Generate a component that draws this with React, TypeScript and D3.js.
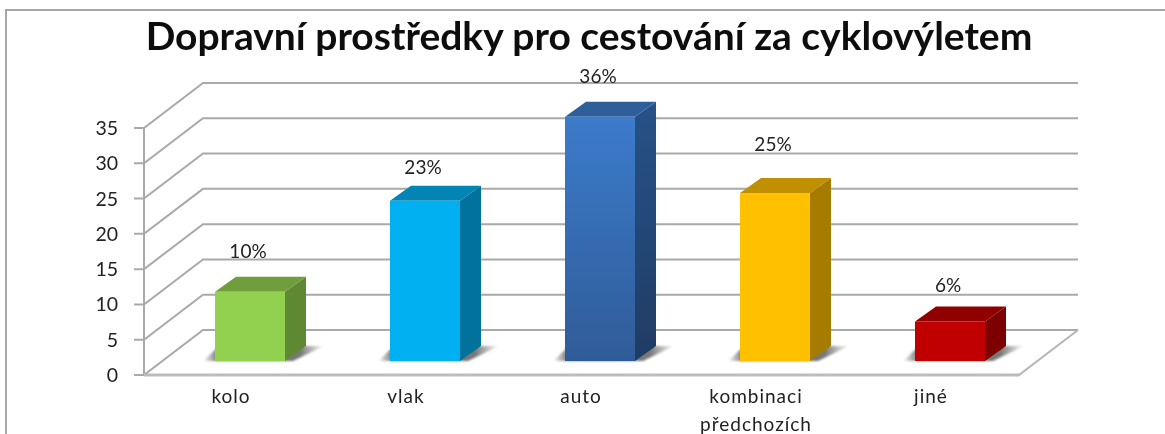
import React from "react";
import * as d3 from "d3";

const categories = ["kolo", "vlak", "auto", "kombinaci\npředchozích", "jiné"];
const values = [9.8, 22.7, 34.6, 23.8, 5.6];
const valueLabels = ["10%", "23%", "36%", "25%", "6%"];
const labelOffsets = [40, 33, 40, 48, 35];
const frontColors = ["#92d050", "#00b0f0", "#3a78c4", "#ffc000", "#c00000"];
const topColors = ["#6f9e3c", "#0085b5", "#2e5e9a", "#c09000", "#900000"];
const sideColors = ["#5f8832", "#00729c", "#26497a", "#a67c00", "#7c0000"];
const yTicks = [0, 5, 10, 15, 20, 25, 30, 35];
const title = "Dopravní prostředky pro cestování za cyklovýletem";

const W = 1165, H = 434;
const y = d3.scaleLinear().domain([0, 35]).range([375, 128]);
const barY = d3.scaleLinear().domain([0, 35]).range([361, 114]);
const x = d3.scaleBand<number>().domain(d3.range(5)).range([162.5, 1037.5]).paddingInner(0.6).paddingOuter(0.3);
const dx = 59, dy = -45;
const bx = 21, by = -15;
const font = "Lato, sans-serif";
const line = d3.line();

export default function App() {
  const bw = x.bandwidth();
  return (
    <svg width={W} height={H} style={{ position: "fixed", left: 0, top: 0, background: "#fff" }}>
      <defs>
        <filter id="soft" x="-5%" y="-5%" width="110%" height="110%"><feGaussianBlur stdDeviation="0.55" /></filter>
        <filter id="shadow" x="-30%" y="-100%" width="160%" height="300%"><feGaussianBlur stdDeviation="1.2" /></filter>
        <linearGradient id="sh" x1="0" y1="0" x2="1" y2="0">
          <stop offset="0" stopColor="#777" stopOpacity={0} />
          <stop offset="0.12" stopColor="#777" />
          <stop offset="0.8" stopColor="#777" />
          <stop offset="1" stopColor="#777" stopOpacity={0} />
        </linearGradient>
        <linearGradient id="g2" x1="0" y1="0" x2="0" y2="1">
          <stop offset="0" stopColor="#3c7bcb" /><stop offset="1" stopColor="#2f5c98" />
        </linearGradient>
        <linearGradient id="g2s" x1="0" y1="0" x2="0" y2="1">
          <stop offset="0" stopColor="#285288" /><stop offset="1" stopColor="#1f3c64" />
        </linearGradient>
      </defs>
      <g filter="url(#soft)">
        <path d={line([[6, H], [6, 10], [W, 10]])!} stroke="#a8a8a8" strokeWidth={2} fill="none" />
        {yTicks.map((t) => (
          <path key={t} d={line([[134, y(t)], [144, y(t)], [144 + dx, y(t) + dy], [1078, y(t) + dy]])!} stroke="#a9a9a9" strokeWidth={2} fill="none" />
        ))}
        <path d={line([[144, y(0)], [144, y(35)]])!} stroke="#a9a9a9" strokeWidth={2} />
        <path d={line([[144, y(0)], [1019, y(0)], [1078, y(0) + dy]])!} stroke="#b5b5b5" strokeWidth={2} fill="none" />
        <path d={line([[144, y(0)], [1019, y(0)]])!} stroke="#bcbcbc" strokeWidth={3} fill="none" />

        {values.map((v, i) => {
          const x0 = x(i)!, x1 = x0 + bw, top = barY(v), base = barY(0);
          return (
            <g key={i}>
              <path d={line([[x0 - 12, base], [x1 + 8, base], [x1 + bx + 18, base - 15], [x0 + 4, base - 15]])! + "Z"} fill="url(#sh)" filter="url(#shadow)" />
              <path d={line([[x1, top], [x1 + bx, top + by], [x1 + bx, base + by], [x1, base]])! + "Z"} fill={i === 2 ? "url(#g2s)" : sideColors[i]} />
              <path d={line([[x0, top], [x0 + bx, top + by], [x1 + bx, top + by], [x1, top]])! + "Z"} fill={topColors[i]} />
              <rect x={x0} y={top} width={bw} height={base - top} fill={i === 2 ? "url(#g2)" : frontColors[i]} />
            </g>
          );
        })}

        <g fontFamily={font} fill="#222">
          {yTicks.map((t) => (
            <text key={t} x={118} y={y(t) + 7} textAnchor="end" fontSize={19.5}>{t}</text>
          ))}
          {categories.map((c, i) =>
            c.split("\n").map((s, j) => (
              <text key={s} x={x(i)! + 16} y={403 + j * 28} textAnchor="middle" fontSize={19} letterSpacing={1}>{s}</text>
            ))
          )}
          {valueLabels.map((l, i) => (
            <text key={l} x={x(i)! + 33} y={barY(values[i]) - labelOffsets[i] + 6} textAnchor="middle" fontSize={19}>{l}</text>
          ))}
        </g>
        <text x={589} y={50} textAnchor="middle" fontFamily={font} fontWeight={700} fontSize={39} fill="#111">{title}</text>
      </g>
    </svg>
  );
}
